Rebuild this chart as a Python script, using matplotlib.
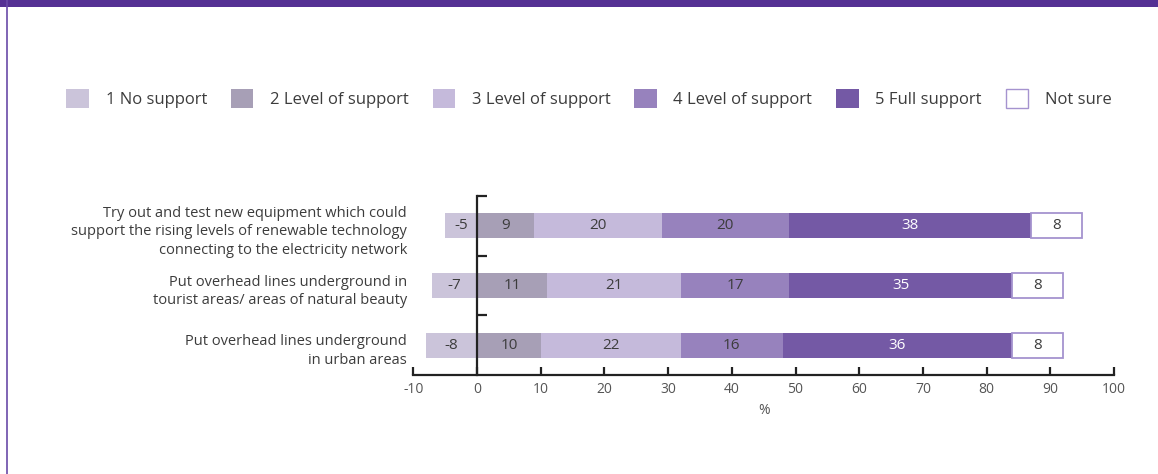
import numpy as np
import matplotlib
matplotlib.use("Agg")
import matplotlib.pyplot as plt
from matplotlib.patches import Patch, Rectangle
from matplotlib.lines import Line2D

# survey data (%), "No support" is shown on the negative side
questions = [
    "Try out and test new equipment which could\nsupport the rising levels of renewable technology\nconnecting to the electricity network",
    "Put overhead lines underground in\ntourist areas/ areas of natural beauty",
    "Put overhead lines underground\nin urban areas",
]
no_support = [-5, -7, -8]
level2 = [9, 11, 10]
level3 = [20, 21, 22]
level4 = [20, 17, 16]
full_support = [38, 35, 36]
not_sure = [8, 8, 8]

legend_labels = ["1 No support", "2 Level of support", "3 Level of support",
                 "4 Level of support", "5 Full support", "Not sure"]
colors = ["#cbc4da", "#a79fb6", "#c5badb", "#9782bd", "#7459a5", "#ffffff"]
edge_purple = "#a593cf"
text_col = "#3c3c3c"

plt.rcParams['font.family'] = ['Open Sans', 'DejaVu Sans']
plt.rcParams['axes.unicode_minus'] = False

fig = plt.figure(figsize=(11.58, 4.74), dpi=100)
ax = fig.add_axes([413.3 / 1158, 99 / 474, 700.7 / 1158, 179 / 474])

y = np.arange(len(questions))
h = 0.42

# negative part
ax.barh(y, no_support, height=h, left=0, color=colors[0], zorder=2)
for yi, v in zip(y, no_support):
    ax.text(v / 2, yi, str(v), ha='center', va='center', fontsize=11, color=text_col, zorder=3)

# positive stacked part
left = np.zeros(len(questions))
series = [level2, level3, level4, full_support, not_sure]
for i, vals in enumerate(series):
    vals = np.array(vals)
    if i == 4:
        ax.barh(y, vals, height=h, left=left, color="white", edgecolor=edge_purple,
                linewidth=1.3, zorder=2)
    else:
        ax.barh(y, vals, height=h, left=left, color=colors[i + 1], zorder=2)
    tc = "white" if i == 3 else text_col
    for yi, l, v in zip(y, left, vals):
        ax.text(l + v / 2, yi, str(v), ha='center', va='center', fontsize=11, color=tc, zorder=3)
    left = left + vals

# question labels on the left
for yi, q in zip(y, questions):
    ax.text(-11, yi + 0.1, q, ha='right', va='center', fontsize=10.5, color=text_col,
            linespacing=1.32)

ax.set_xlim(-10, 100)
ax.set_ylim(2.5, -0.5)
ax.set_xticks(np.arange(-10, 101, 10))
ax.set_yticks([-0.5, 0.5, 1.5])
ax.set_yticklabels([])

for s in ['top', 'right']:
    ax.spines[s].set_visible(False)
ax.spines['left'].set_position(('data', 0))
ax.spines['left'].set_linewidth(1.6)
ax.spines['bottom'].set_linewidth(1.6)
ax.spines['left'].set_color('#222222')
ax.spines['bottom'].set_color('#222222')
ax.tick_params(axis='x', direction='in', length=6, width=1.6, color='#222222',
               labelsize=10, labelcolor='#555555', pad=5)
ax.tick_params(axis='y', direction='in', length=7, width=1.6, color='#222222')
ax.set_xlabel("%", fontsize=10, color='#555555', labelpad=4)

# legend
handles = []
for lab, c in zip(legend_labels, colors):
    if lab == "Not sure":
        handles.append(Patch(facecolor=c, edgecolor=edge_purple, linewidth=1.0, label=lab))
    else:
        handles.append(Patch(facecolor=c, edgecolor='none', label=lab))
fig.legend(handles=handles, loc='center', bbox_to_anchor=(589 / 1158, 1 - 98.5 / 474),
           ncol=6, frameon=False, fontsize=12, handlelength=1.35, handleheight=1.35,
           handletextpad=1.0, columnspacing=1.43, labelcolor=text_col)

# purple frame
fig.patches.append(Rectangle((0, 1 - 7 / 474), 1, 7 / 474, transform=fig.transFigure,
                             facecolor='#553194', edgecolor='none'))
fig.lines.append(Line2D([7 / 1158, 7 / 1158], [0, 1], transform=fig.transFigure,
                        color='#6a4aa8', linewidth=1.2))

fig.savefig("out.png", dpi=100)
